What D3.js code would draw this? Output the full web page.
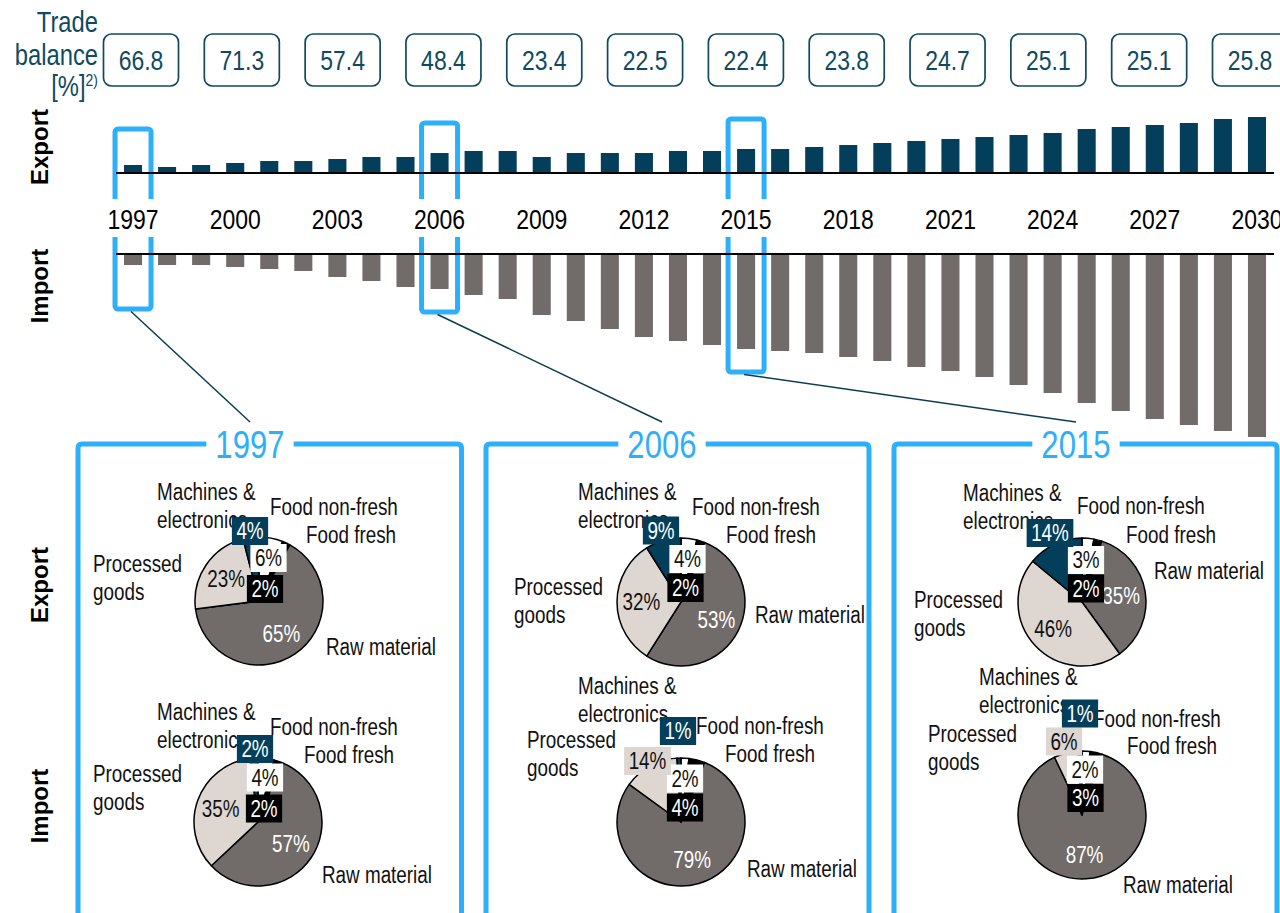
<!DOCTYPE html>
<html>
<head>
<meta charset="utf-8">
<script src="https://cdn.jsdelivr.net/npm/d3@7"></script>
<style>
  html, body { margin: 0; padding: 0; background: #fff; }
  svg { display: block; font-family: "Liberation Sans", Arial, sans-serif; }
</style>
</head>
<body>
<svg id="chart" width="1280" height="913"></svg>
<script>
// ---------- data ----------
const years = [1997, 1998, 1999, 2000, 2001, 2002, 2003, 2004, 2005, 2006, 2007, 2008,
  2009, 2010, 2011, 2012, 2013, 2014, 2015, 2016, 2017, 2018, 2019, 2020, 2021, 2022,
  2023, 2024, 2025, 2026, 2027, 2028, 2029, 2030];
const exportValues = [4, 3, 4, 5, 6, 6, 7, 8, 8, 10, 11, 11, 8, 10, 10, 10, 11, 11,
  12, 12, 13, 14, 15, 16, 17, 18, 19, 20, 22, 23, 24, 25, 27, 28];
const importValues = [5.5, 5.5, 5.5, 6.5, 7.5, 8.5, 11.5, 13.5, 16.5, 17.5, 20.5, 22.5,
  30.5, 33.5, 37.5, 41.5, 43.5, 45.5, 47.5, 48.5, 49.5, 51.5, 53.5, 56.5, 58.5, 61.5,
  65.5, 69.5, 74.5, 78.5, 82.5, 85.5, 88.5, 91.5];

const tickYears = [1997, 2000, 2003, 2006, 2009, 2012, 2015, 2018, 2021, 2024, 2027, 2030];
const balanceValues = [66.8, 71.3, 57.4, 48.4, 23.4, 22.5, 22.4, 23.8, 24.7, 25.1, 25.1, 25.8];

const highlightYears = [1997, 2006, 2015];

const categories = ["Food non-fresh", "Food fresh", "Raw material", "Processed goods", "Machines & electronics"];
const categoryLines = [["Food non-fresh"], ["Food fresh"], ["Raw material"], ["Processed", "goods"], ["Machines &", "electronics"]];

// shares in % per category (same order as categories)
const export1997 = [6, 2, 65, 23, 4];
const import1997 = [4, 2, 57, 35, 2];
const export2006 = [4, 2, 53, 32, 9];
const import2006 = [2, 4, 79, 14, 1];
const export2015 = [3, 2, 35, 46, 14];
const import2015 = [2, 3, 87, 6, 1];

// ---------- styles ----------
const TEAL = "#033f5a";
const GREY = "#716c6a";
const LIGHT = "#ddd6d1";
const BLUE = "#2eaffa";
const INK = "#0f4a5f";
const sliceFill = ["#ffffff", "#000000", GREY, LIGHT, TEAL];
const boxText = ["#111", "#fff", "#fff", "#111", "#fff"];
const inSliceText = ["#111", "#fff", "#fff", "#111", "#fff"];
const NARROW = 0.82;

const svg = d3.select("#chart");

// narrow (condensed) text helper
function txt(g, x, y, str, o = {}) {
  const t = g.append("text")
    .attr("transform", `translate(${x},${y}) scale(${o.sx ?? NARROW},1)`)
    .attr("text-anchor", o.anchor || "start")
    .attr("font-size", o.size || 23)
    .attr("fill", o.fill || "#111")
    .text(str);
  if (o.dy) t.attr("dy", o.dy);
  if (o.weight) t.attr("font-weight", o.weight);
  return t;
}

// ---------- time series ----------
const x = d3.scaleBand().domain(years).range([116, 1274]).paddingInner(0.47).paddingOuter(0.235);
const bw = x.bandwidth();
const xc = d => x(d) + bw / 2;
const yExp = d3.scaleLinear().domain([0, 30]).range([173, 113]);
const yImp = d3.scaleLinear().domain([0, 100]).range([254, 454]);

const series = years.map((y, i) => ({ year: y, exp: exportValues[i], imp: importValues[i] }));

svg.append("g").selectAll("rect").data(series).join("rect")
  .attr("x", d => x(d.year)).attr("width", bw)
  .attr("y", d => yExp(d.exp)).attr("height", d => yExp(0) - yExp(d.exp))
  .attr("fill", TEAL);

svg.append("g").selectAll("rect").data(series).join("rect")
  .attr("x", d => x(d.year)).attr("width", bw)
  .attr("y", yImp(0)).attr("height", d => yImp(d.imp) - yImp(0))
  .attr("fill", GREY);

// panels below
const panelFrames = [
  { left: 78, right: 461.5, titleX: 250 },
  { left: 486, right: 869, titleX: 662 },
  { left: 894, right: 1277, titleX: 1076 }
];
const frameTop = 444;

// highlight frames around selected years
const hl = svg.append("g");
highlightYears.forEach((yr, i) => {
  const d = series.find(s => s.year === yr);
  const top = Math.min(129, yExp(d.exp) - 30);
  const bottom = Math.max(309, yImp(d.imp) + 23);
  const cx = xc(yr);
  hl.append("rect")
    .attr("x", cx - 18).attr("y", top).attr("width", 36).attr("height", bottom - top)
    .attr("rx", 3).attr("fill", "none").attr("stroke", BLUE).attr("stroke-width", 5);
  hl.append("line")
    .attr("x1", cx - 2).attr("y1", bottom + 2.5)
    .attr("x2", panelFrames[i].titleX).attr("y2", 422)
    .attr("stroke", "#0b3d52").attr("stroke-width", 1.5);
});

// zero lines
[yExp(0), yImp(0)].forEach(y => {
  svg.append("line").attr("x1", 116).attr("x2", 1274).attr("y1", y).attr("y2", y)
    .attr("stroke", "#000").attr("stroke-width", 1.8);
});

// year axis labels
const yearG = svg.append("g");
tickYears.forEach(yr => {
  yearG.append("rect").attr("x", xc(yr) - 27).attr("y", 199).attr("width", 54).attr("height", 38)
    .attr("fill", "#fff");
  txt(yearG, xc(yr), 229, yr, { anchor: "middle", size: 28, fill: "#000" });
});

// trade balance row
const xb = d3.scalePoint().domain(tickYears).range([141, 1250]);
const balG = svg.append("g");
tickYears.forEach((yr, i) => {
  balG.append("rect").attr("x", xb(yr) - 37.5).attr("y", 34).attr("width", 75).attr("height", 52)
    .attr("rx", 8).attr("fill", "#fff").attr("stroke", INK).attr("stroke-width", 1.7);
  txt(balG, xb(yr), 70, balanceValues[i].toFixed(1), { anchor: "middle", size: 28, fill: INK });
});
txt(balG, 98, 32, "Trade", { anchor: "end", size: 29, fill: INK });
txt(balG, 98, 65, "balance", { anchor: "end", size: 29, fill: INK });
const pctLabel = txt(balG, 98, 96, "[%]", { anchor: "end", size: 29, fill: INK });
pctLabel.append("tspan").attr("font-size", 17).attr("dy", -10).text("2)");

// side titles
function sideTitle(y, str) {
  svg.append("text").attr("transform", `translate(48,${y}) rotate(-90)`)
    .attr("text-anchor", "middle").attr("font-size", 24).attr("font-weight", "bold")
    .attr("fill", "#000").text(str);
}
sideTitle(147, "Export");
sideTitle(286, "Import");
sideTitle(585, "Export");
sideTitle(806, "Import");

// panel frames with titles
panelFrames.forEach((p, i) => {
  const g = svg.append("g");
  g.append("path")
    .attr("d", `M${p.left},913 V${frameTop + 4} Q${p.left},${frameTop} ${p.left + 4},${frameTop} H${p.right - 4} Q${p.right},${frameTop} ${p.right},${frameTop + 4} V913`)
    .attr("fill", "none").attr("stroke", BLUE).attr("stroke-width", 5);
  const t = txt(g, p.titleX, 458, highlightYears[i], { anchor: "middle", size: 38, fill: BLUE });
  const w = t.node().getComputedTextLength() * NARROW;
  g.insert("rect", "text").attr("x", p.titleX - w / 2 - 9).attr("y", 430).attr("width", w + 18)
    .attr("height", 30).attr("fill", "#fff");
});

// ---------- pies ----------
const R = 64;
const pie = d3.pie().sort(null).startAngle(0).endAngle(2 * Math.PI);
const arc = d3.arc().innerRadius(0).outerRadius(R);
const labelArc = d3.arc().innerRadius(R * 0.62).outerRadius(R * 0.62);

// name: [dx, dy] first line baseline; box: [dx, dy] centre of value box
const pieLayouts = [
  { cx: 259, cy: 601, values: export1997,
    name: [[11, -86], [47, -58], [67, 54], [-166, -29], [-102, -101]],
    box: { 0: [9.5, -43], 1: [6, -12], 4: [-9, -70] } },
  { cx: 258, cy: 822, values: import1997,
    name: [[12, -87], [46, -59], [64, 61], [-165, -40], [-101, -102]],
    box: { 0: [7, -44.5], 1: [6, -13.5], 4: [-3, -73] } },
  { cx: 681, cy: 602, values: export2006,
    name: [[11, -87], [45, -59], [74, 21], [-167, -7], [-103, -102]],
    box: { 0: [6.5, -43], 1: [4.5, -14], 4: [-20, -71.5] } },
  { cx: 681, cy: 822, values: import2006,
    name: [[15, -88], [44, -60], [66, 55], [-154, -74], [-103, -128]],
    box: { 0: [4, -43.5], 1: [4, -14.5], 3: [-33.5, -61], 4: [-3, -91] } },
  { cx: 1082, cy: 602, values: export2015,
    name: [[-5, -88], [44, -59], [72, -23], [-168, 6], [-119, -101]],
    box: { 0: [4, -42], 1: [4, -13.5], 4: [-32, -69] } },
  { cx: 1082, cy: 815, values: import2015,
    name: [[11, -88], [45, -61], [41, 78], [-154, -73], [-103, -130]],
    box: { 0: [3, -45.5], 1: [3.5, -17], 3: [-18, -73.5], 4: [-2, -101.5] } }
];

pieLayouts.forEach(p => {
  const g = svg.append("g").attr("transform", `translate(${p.cx},${p.cy})`);
  const arcs = pie(p.values);

  g.selectAll("path").data(arcs).join("path")
    .attr("d", arc)
    .attr("fill", (d, i) => sliceFill[i])
    .attr("stroke", "#000").attr("stroke-width", 1.5).attr("stroke-linejoin", "round");

  // category names
  categoryLines.forEach((lines, i) => {
    const [dx, dy] = p.name[i];
    lines.forEach((ln, k) => txt(g, dx, dy + k * 28, ln, { size: 23, fill: "#111" }));
  });

  // values inside slices
  arcs.forEach((a, i) => {
    if (p.box[i]) return;
    const [lx, ly] = labelArc.centroid(a);
    txt(g, lx, ly, `${p.values[i]}%`, { anchor: "middle", size: 23, fill: inSliceText[i], dy: "0.35em" });
  });

  // boxed values for the small slices
  Object.keys(p.box).forEach(key => {
    const i = +key;
    const [bx, by] = p.box[i];
    const bg = g.append("g");
    const rect = bg.append("rect").attr("fill", sliceFill[i]);
    const t = txt(bg, bx, by, `${p.values[i]}%`, { anchor: "middle", size: 23, fill: boxText[i], dy: "0.35em" });
    const w = t.node().getComputedTextLength() * NARROW + 9;
    rect.attr("x", bx - w / 2).attr("y", by - 14).attr("width", w).attr("height", 28);
  });
});
</script>
</body>
</html>
